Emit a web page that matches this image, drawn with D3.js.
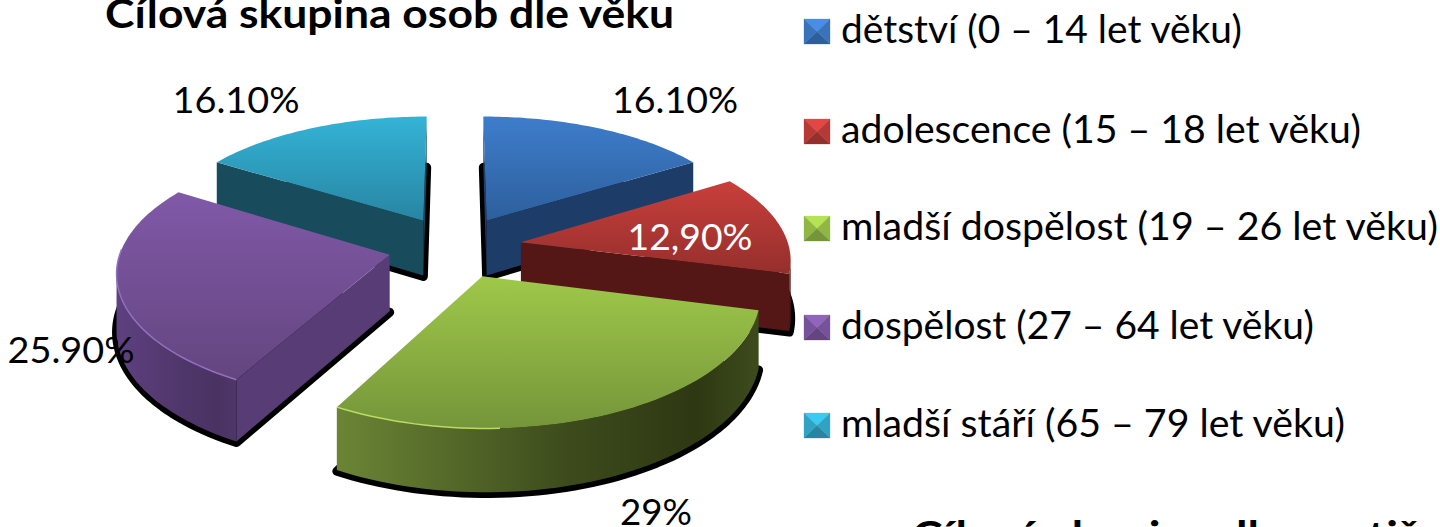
<!DOCTYPE html>
<html><head><meta charset="utf-8">
<script src="https://cdn.jsdelivr.net/npm/d3@7"></script>
<style>html,body{margin:0;padding:0;background:#fff;overflow:hidden}svg{display:block}text{font-family:Lato,"Open Sans",sans-serif}</style>
</head><body><svg id="c" width="1440" height="527"></svg>
<script>
const categories = ["dětství (0 – 14 let věku)","adolescence (15 – 18 let věku)","mladší dospělost (19 – 26 let věku)","dospělost (27 – 64 let věku)","mladší stáří (65 – 79 let věku)"];
const values = [16.1,12.9,29,25.9,16.1];
const valueLabels = ["16.10%","12,90%","29%","25.90%","16.10%"];
const topColors = ["#3e7dcc","#c93f3b","#9fc84a","#8059a8","#34b3d6"];
const lowColors = ["#2d5f9c","#952f2c","#75953a","#64457f","#2885a2"];
const rimColors = ["#3e7dcc","#c93f3b","#b9dc62","#9270bd","#34b3d6"];
const wallDark = ["#1d3c68","#541715","#2e3813","#4a3363","#16495a"];
const wallLight = ["#1f3f6d","#5a1a18","#6b8535","#5e4080","#184c5c"];
const labelPos = [[675,113,126],[690,250,125],[656,525,72],[71,363,127],[236,113,127]];
const labelFill = ["#000","#fff","#000","#000","#000"];
const legendRowY = [43,143,240,339,437];
const legendWidth = [401,520,597,473,504];

const W=1440,H=527, cx=455, cy=247, A=268, B=124, P=0.12, Py=0.13, Pz=0.1, E=0.25, DEPTH=56;
const svg=d3.select("#c");
const defs=svg.append("defs");
const pie=d3.pie().sort(null).value(d=>d)(values);
const proj=(X,Y,z=0)=>{const w=1+P*Y, v=1+Py*Y;return [cx+A*X/w, cy-B*Y/v+z/(1+Pz*Y)];};

const slices=pie.map((p,i)=>{
  const mid=(p.startAngle+p.endAngle)/2, ox=E*Math.sin(mid), oy=E*Math.cos(mid);
  const n=60, angs=d3.range(n+1).map(k=>p.startAngle+(p.endAngle-p.startAngle)*k/n);
  const pt=(a,z)=>proj(ox+Math.sin(a),oy+Math.cos(a),z), apex=z=>proj(ox,oy,z);
  return {i,angs,pt,apex};
});
const line=d3.line();
const face=(s,z)=>line([s.apex(z),...s.angs.map(a=>s.pt(a,z))])+"Z";

[4,0,1,3,2].forEach(i=>{
  const s=slices[i], g=svg.append("g");
  // shadow
  g.append("path").attr("d",face(s,DEPTH+1)).attr("fill","#000").attr("stroke","#000").attr("stroke-width",9).attr("stroke-linejoin","round");
  const a0=s.angs[0], a1=s.angs[s.angs.length-1];
  const wall=(p,q,c)=>g.append("path").attr("d",line([p[0],q[0],q[1],p[1]])+"Z").attr("fill",c);
  if(s.pt(a0,0)[0]<s.apex(0)[0]) wall([s.apex(0),s.apex(DEPTH)],[s.pt(a0,0),s.pt(a0,DEPTH)],i===3?"#573c75":wallLight[i]);
  if(s.apex(0)[0]<s.pt(a1,0)[0]) wall([s.pt(a1,0),s.pt(a1,DEPTH)],[s.apex(0),s.apex(DEPTH)],wallDark[i]);
  // outer curved wall: one path, shaded left to right
  const vis=s.angs.filter((a,k)=>{
    const prev=s.angs[k-1], next=s.angs[k+1];
    return (next!==undefined&&s.pt(next,0)[0]<s.pt(a,0)[0])||(prev!==undefined&&s.pt(a,0)[0]<s.pt(prev,0)[0]);
  });
  if(vis.length>1){
    const tops=vis.map(a=>s.pt(a,0)), bots=vis.map(a=>s.pt(a,DEPTH)).reverse();
    const xs=tops.map(p=>p[0]);
    const gw=defs.append("linearGradient").attr("id","w"+i).attr("gradientUnits","userSpaceOnUse")
      .attr("x1",d3.min(xs)).attr("x2",d3.max(xs)).attr("y1",0).attr("y2",0);
    gw.append("stop").attr("offset",0).attr("stop-color",wallLight[i]);
    gw.append("stop").attr("offset",0.55).attr("stop-color",d3.interpolateRgb(wallLight[i],wallDark[i])(0.75));
    gw.append("stop").attr("offset",0.85).attr("stop-color",wallDark[i]);
    gw.append("stop").attr("offset",1).attr("stop-color",d3.interpolateRgb(wallLight[i],wallDark[i])(0.75));
    g.append("path").attr("d",line([...tops,...bots])+"Z").attr("fill",`url(#w${i})`);
  }
  // top
  const d=face(s,0);
  const ys=[s.apex(0)[1],...s.angs.map(a=>s.pt(a,0)[1])];
  const gr=defs.append("linearGradient").attr("id","t"+i).attr("gradientUnits","userSpaceOnUse")
    .attr("x1",0).attr("x2",0).attr("y1",d3.min(ys)).attr("y2",d3.max(ys));
  gr.append("stop").attr("offset",0).attr("stop-color",topColors[i]);
  gr.append("stop").attr("offset",1).attr("stop-color",lowColors[i]);
  g.append("path").attr("d",d).attr("fill",`url(#t${i})`);
  // bright rim along the lit front edge
  const front=s.angs.filter(a=>Math.cos(a)<0.05&&Math.sin(a)<0.05).map(a=>s.pt(a,0));
  if(front.length>1) g.append("path").attr("d",line(front)).attr("fill","none").attr("stroke",rimColors[i]).attr("stroke-width",1.5);
});

const txt=(x,y,str,size,len,fill,anchor,weight)=>svg.append("text").attr("x",x).attr("y",y).attr("font-size",size)
  .attr("fill",fill).attr("text-anchor",anchor).attr("font-weight",weight)
  .attr("textLength",len).attr("lengthAdjust","spacingAndGlyphs").text(str);

valueLabels.forEach((t,i)=>txt(labelPos[i][0],labelPos[i][1],t,37,labelPos[i][2],labelFill[i],"middle",400));

const SW=26, SH=25;
categories.forEach((c,i)=>{
  const x=804, y=legendRowY[i]-SH+1, m=[x+SW/2,y+SH/2];
  const g=svg.append("g");
  const tri=(a,b,col)=>g.append("path").attr("d",line([a,b,m])+"Z").attr("fill",col).attr("stroke",col).attr("stroke-width",.3);
  const base=d3.interpolateRgb(topColors[i],lowColors[i])(0.35);
  tri([x,y],[x+SW,y],d3.rgb(topColors[i]).brighter(0.35));
  tri([x+SW,y],[x+SW,y+SH],base);
  tri([x,y],[x,y+SH],base);
  tri([x,y+SH],[x+SW,y+SH],lowColors[i]);
  txt(841,legendRowY[i],c,38,legendWidth[i],"#000","start",400);
});

txt(105,28,"Cílová skupina osob dle věku",40,569,"#000","start",700);
txt(912,550,"Cílová skupina dle postižení",40,569,"#000","start",700);
</script></body></html>
